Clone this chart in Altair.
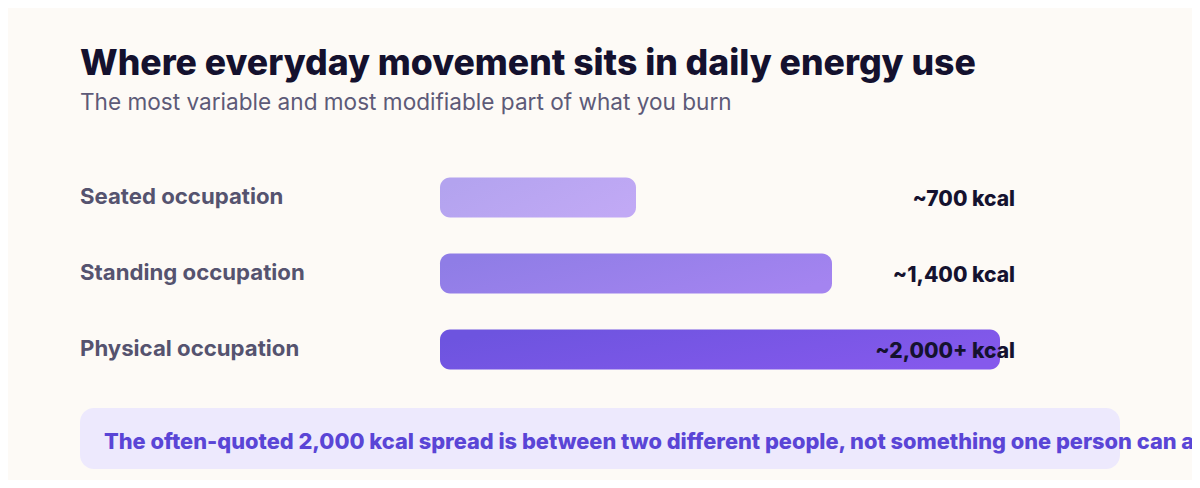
import altair as alt
import pandas as pd

categories = ["Seated occupation", "Standing occupation", "Physical occupation"]
kcal = [700, 1400, 2000]
value_labels = ["~700 kcal", "~1,400 kcal", "~2,000+ kcal"]
grad_left = ["#b3a3ef", "#8f7de6", "#6d54df"]
grad_right = ["#c1a9f5", "#a484f0", "#8559ec"]

title_text = "Where everyday movement sits in daily energy use"
subtitle_text = "The most variable and most modifiable part of what you burn"
note_text = "The often-quoted 2,000 kcal spread is between two different people, not something one person can adjust at will"

df = pd.DataFrame({"cat": categories, "kcal": kcal, "label": value_labels})

FONT = "Inter"
W, H = 1184, 472

y_enc = alt.Y("cat:N", sort=categories, axis=None,
              scale=alt.Scale(range=[151.5, 379.5], paddingInner=0.47368, paddingOuter=0.23684))
x_enc = alt.X("kcal:Q", axis=None,
              scale=alt.Scale(domain=[0, 2000], range=[432, 992], nice=False, zero=True))

base = alt.Chart(df)

layers = []

# callout box
layers.append(
    alt.Chart(pd.DataFrame({"t": [note_text]})).mark_rect(cornerRadius=14, color="#ede9fd").encode(
        x=alt.value(72), x2=alt.value(1112), y=alt.value(400), y2=alt.value(461)
    )
)

# bars with gradients
for i, c in enumerate(categories):
    grad = alt.Gradient(
        gradient="linear",
        stops=[alt.GradientStop(color=grad_left[i], offset=0),
               alt.GradientStop(color=grad_right[i], offset=1)],
        x1=0, x2=1, y1=0.3, y2=0.7,
    )
    layers.append(
        base.transform_filter(alt.datum.cat == c)
        .mark_bar(cornerRadius=10, color=grad)
        .encode(x=x_enc, x2=alt.datum(0), y=y_enc)
    )

# category labels
layers.append(
    base.mark_text(align="left", baseline="middle", font=FONT, fontSize=22.2, fontWeight=700,
                   color="#55536f", dy=-1)
    .encode(y=y_enc, x=alt.value(72), text="cat:N")
)

# value labels
layers.append(
    base.mark_text(align="right", baseline="middle", font=FONT, fontSize=21, fontWeight=800,
                   color="#15122f", dy=2)
    .encode(y=y_enc, x=alt.value(1007), text="label:N")
)

# title / subtitle / note
layers.append(
    alt.Chart(pd.DataFrame({"t": [title_text]})).mark_text(
        align="left", baseline="alphabetic", font=FONT, fontSize=35.6, fontWeight=800, color="#14112e"
    ).encode(text="t:N", x=alt.value(72), y=alt.value(67))
)
layers.append(
    alt.Chart(pd.DataFrame({"t": [subtitle_text]})).mark_text(
        align="left", baseline="alphabetic", font=FONT, fontSize=22.6, fontWeight=400, color="#5d5a78"
    ).encode(text="t:N", x=alt.value(72), y=alt.value(102))
)
layers.append(
    alt.Chart(pd.DataFrame({"t": [note_text]})).mark_text(
        align="left", baseline="alphabetic", font=FONT, fontSize=21.8, fontWeight=800, color="#5a45d6"
    ).encode(text="t:N", x=alt.value(96), y=alt.value(441))
)

chart = alt.layer(*layers).properties(
    width=W, height=H, padding=0,
    autosize=alt.AutoSizeParams(type="fit", contains="padding"),
    background="#fdfaf6",
).configure_view(stroke=None)

chart.save("out.html", embed_options={"renderer": "svg", "actions": False})
